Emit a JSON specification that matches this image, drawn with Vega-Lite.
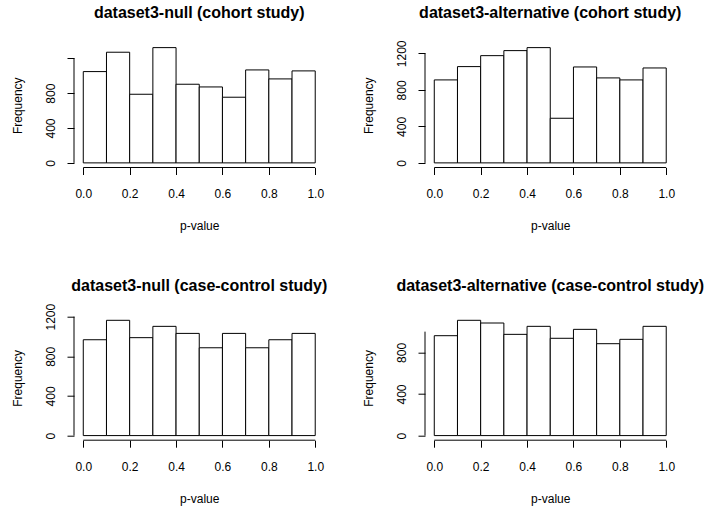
{
  "$schema": "https://vega.github.io/schema/vega-lite/v6.json",
  "background": "white",
  "padding": {"left": 10, "top": 5, "right": 5, "bottom": 5},
  "config": {
    "view": {"stroke": null},
    "font": "Liberation Sans",
    "axis": {
      "domain": false, "grid": false, "ticks": true, "tickSize": 7, "tickColor": "black", "tickWidth": 1,
      "labelFont": "Liberation Sans", "labelFontSize": 12, "labelColor": "black", "labelOverlap": false,
      "labelFlush": false, "labelBound": false,
      "titleFont": "Liberation Sans", "titleFontSize": 12, "titleFontWeight": "normal", "titleColor": "black",
      "titleBaseline": "alphabetic"
    },
    "axisX": {"labelBaseline": "alphabetic", "labelPadding": 23, "titlePadding": 30},
    "axisY": {"labelAngle": -90, "labelAlign": "center", "labelBaseline": "alphabetic", "labelPadding": 13, "titlePadding": 23, "format": "d"},
    "title": {"font": "Liberation Sans", "fontSize": 16, "fontWeight": "bold", "color": "black", "anchor": "middle", "frame": "group", "baseline": "alphabetic"}
  },
  "datasets": {
    "bins": [
      {"panel": "null-cohort", "start": 0.0, "end": 0.1, "count": 1047},
      {"panel": "null-cohort", "start": 0.1, "end": 0.2, "count": 1269},
      {"panel": "null-cohort", "start": 0.2, "end": 0.3, "count": 787},
      {"panel": "null-cohort", "start": 0.3, "end": 0.4, "count": 1322},
      {"panel": "null-cohort", "start": 0.4, "end": 0.5, "count": 902},
      {"panel": "null-cohort", "start": 0.5, "end": 0.6, "count": 871},
      {"panel": "null-cohort", "start": 0.6, "end": 0.7, "count": 753},
      {"panel": "null-cohort", "start": 0.7, "end": 0.8, "count": 1066},
      {"panel": "null-cohort", "start": 0.8, "end": 0.9, "count": 963},
      {"panel": "null-cohort", "start": 0.9, "end": 1.0, "count": 1055},
      {"panel": "alt-cohort", "start": 0.0, "end": 0.1, "count": 909},
      {"panel": "alt-cohort", "start": 0.1, "end": 0.2, "count": 1055},
      {"panel": "alt-cohort", "start": 0.2, "end": 0.3, "count": 1175},
      {"panel": "alt-cohort", "start": 0.3, "end": 0.4, "count": 1230},
      {"panel": "alt-cohort", "start": 0.4, "end": 0.5, "count": 1263},
      {"panel": "alt-cohort", "start": 0.5, "end": 0.6, "count": 489},
      {"panel": "alt-cohort", "start": 0.6, "end": 0.7, "count": 1051},
      {"panel": "alt-cohort", "start": 0.7, "end": 0.8, "count": 931},
      {"panel": "alt-cohort", "start": 0.8, "end": 0.9, "count": 909},
      {"panel": "alt-cohort", "start": 0.9, "end": 1.0, "count": 1040},
      {"panel": "null-cc", "start": 0.0, "end": 0.1, "count": 967},
      {"panel": "null-cc", "start": 0.1, "end": 0.2, "count": 1163},
      {"panel": "null-cc", "start": 0.2, "end": 0.3, "count": 988},
      {"panel": "null-cc", "start": 0.3, "end": 0.4, "count": 1102},
      {"panel": "null-cc", "start": 0.4, "end": 0.5, "count": 1031},
      {"panel": "null-cc", "start": 0.5, "end": 0.6, "count": 886},
      {"panel": "null-cc", "start": 0.6, "end": 0.7, "count": 1031},
      {"panel": "null-cc", "start": 0.7, "end": 0.8, "count": 886},
      {"panel": "null-cc", "start": 0.8, "end": 0.9, "count": 967},
      {"panel": "null-cc", "start": 0.9, "end": 1.0, "count": 1031},
      {"panel": "alt-cc", "start": 0.0, "end": 0.1, "count": 961},
      {"panel": "alt-cc", "start": 0.1, "end": 0.2, "count": 1109},
      {"panel": "alt-cc", "start": 0.2, "end": 0.3, "count": 1083},
      {"panel": "alt-cc", "start": 0.3, "end": 0.4, "count": 974},
      {"panel": "alt-cc", "start": 0.4, "end": 0.5, "count": 1051},
      {"panel": "alt-cc", "start": 0.5, "end": 0.6, "count": 936},
      {"panel": "alt-cc", "start": 0.6, "end": 0.7, "count": 1022},
      {"panel": "alt-cc", "start": 0.7, "end": 0.8, "count": 884},
      {"panel": "alt-cc", "start": 0.8, "end": 0.9, "count": 926},
      {"panel": "alt-cc", "start": 0.9, "end": 1.0, "count": 1051}
    ],
    "one": [{}]
  },
  "columns": 2,
  "bounds": "flush",
  "spacing": {"row": 147.7, "column": 100},
  "concat": [
    {
      "title": {"text": "dataset3-null (cohort study)", "offset": 22},
      "width": 250.5, "height": 124.5,
      "layer": [
        {
          "data": {"name": "bins"},
          "transform": [{"filter": "datum.panel == 'null-cohort'"}],
          "mark": {"type": "rect", "fill": "white", "stroke": "black", "strokeWidth": 1},
          "encoding": {
            "x": {"field": "start", "type": "quantitative", "scale": {"domain": [-0.04, 1.04], "nice": false, "zero": false},
                  "axis": {"title": "p-value", "values": [0, 0.2, 0.4, 0.6, 0.8, 1.0], "format": ".1f"}},
            "x2": {"field": "end"},
            "y": {"field": "count", "type": "quantitative", "scale": {"domain": [-52.88, 1374.88], "nice": false, "zero": false},
                  "axis": {"title": "Frequency", "values": [0, 200, 400, 600, 800, 1000, 1200], "labelExpr": "datum.value % 400 == 0 && datum.value <= 800 ? datum.label : ''"}},
            "y2": {"datum": 0}
          }
        },
        {
          "data": {"name": "one"},
          "mark": {"type": "rule", "color": "black", "strokeWidth": 1},
          "encoding": {"x": {"datum": 0}, "x2": {"datum": 1}, "y": {"datum": -52.88}}
        },
        {
          "data": {"name": "one"},
          "mark": {"type": "rule", "color": "black", "strokeWidth": 1},
          "encoding": {"x": {"datum": -0.04}, "y": {"datum": 0}, "y2": {"datum": 1200}}
        }
      ]
    },
    {
      "title": {"text": "dataset3-alternative (cohort study)", "offset": 19},
      "width": 250.5, "height": 124.5,
      "layer": [
        {
          "data": {"name": "bins"},
          "transform": [{"filter": "datum.panel == 'alt-cohort'"}],
          "mark": {"type": "rect", "fill": "white", "stroke": "black", "strokeWidth": 1},
          "encoding": {
            "x": {"field": "start", "type": "quantitative", "scale": {"domain": [-0.04, 1.04], "nice": false, "zero": false},
                  "axis": {"title": "p-value", "values": [0, 0.2, 0.4, 0.6, 0.8, 1.0], "format": ".1f"}},
            "x2": {"field": "end"},
            "y": {"field": "count", "type": "quantitative", "scale": {"domain": [-50.52, 1313.52], "nice": false, "zero": false},
                  "axis": {"title": "Frequency", "values": [0, 200, 400, 600, 800, 1000, 1200], "labelExpr": "datum.value % 400 == 0 ? datum.label : ''"}},
            "y2": {"datum": 0}
          }
        },
        {
          "data": {"name": "one"},
          "mark": {"type": "rule", "color": "black", "strokeWidth": 1},
          "encoding": {"x": {"datum": 0}, "x2": {"datum": 1}, "y": {"datum": -50.52}}
        },
        {
          "data": {"name": "one"},
          "mark": {"type": "rule", "color": "black", "strokeWidth": 1},
          "encoding": {"x": {"datum": -0.04}, "y": {"datum": 0}, "y2": {"datum": 1200}}
        }
      ]
    },
    {
      "title": {"text": "dataset3-null (case-control study)", "offset": 9.6},
      "width": 250.5, "height": 124.5,
      "layer": [
        {
          "data": {"name": "bins"},
          "transform": [{"filter": "datum.panel == 'null-cc'"}],
          "mark": {"type": "rect", "fill": "white", "stroke": "black", "strokeWidth": 1},
          "encoding": {
            "x": {"field": "start", "type": "quantitative", "scale": {"domain": [-0.04, 1.04], "nice": false, "zero": false},
                  "axis": {"title": "p-value", "values": [0, 0.2, 0.4, 0.6, 0.8, 1.0], "format": ".1f"}},
            "x2": {"field": "end"},
            "y": {"field": "count", "type": "quantitative", "scale": {"domain": [-46.52, 1209.52], "nice": false, "zero": false},
                  "axis": {"title": "Frequency", "values": [0, 200, 400, 600, 800, 1000, 1200], "labelExpr": "datum.value % 400 == 0 ? datum.label : ''"}},
            "y2": {"datum": 0}
          }
        },
        {
          "data": {"name": "one"},
          "mark": {"type": "rule", "color": "black", "strokeWidth": 1},
          "encoding": {"x": {"datum": 0}, "x2": {"datum": 1}, "y": {"datum": -46.52}}
        },
        {
          "data": {"name": "one"},
          "mark": {"type": "rule", "color": "black", "strokeWidth": 1},
          "encoding": {"x": {"datum": -0.04}, "y": {"datum": 0}, "y2": {"datum": 1200}}
        }
      ]
    },
    {
      "title": {"text": "dataset3-alternative (case-control study)", "offset": 22},
      "width": 250.5, "height": 124.5,
      "layer": [
        {
          "data": {"name": "bins"},
          "transform": [{"filter": "datum.panel == 'alt-cc'"}],
          "mark": {"type": "rect", "fill": "white", "stroke": "black", "strokeWidth": 1},
          "encoding": {
            "x": {"field": "start", "type": "quantitative", "scale": {"domain": [-0.04, 1.04], "nice": false, "zero": false},
                  "axis": {"title": "p-value", "values": [0, 0.2, 0.4, 0.6, 0.8, 1.0], "format": ".1f"}},
            "x2": {"field": "end"},
            "y": {"field": "count", "type": "quantitative", "scale": {"domain": [-44.36, 1153.36], "nice": false, "zero": false},
                  "axis": {"title": "Frequency", "values": [0, 200, 400, 600, 800, 1000], "labelExpr": "datum.value % 400 == 0 ? datum.label : ''"}},
            "y2": {"datum": 0}
          }
        },
        {
          "data": {"name": "one"},
          "mark": {"type": "rule", "color": "black", "strokeWidth": 1},
          "encoding": {"x": {"datum": 0}, "x2": {"datum": 1}, "y": {"datum": -44.36}}
        },
        {
          "data": {"name": "one"},
          "mark": {"type": "rule", "color": "black", "strokeWidth": 1},
          "encoding": {"x": {"datum": -0.04}, "y": {"datum": 0}, "y2": {"datum": 1000}}
        }
      ]
    }
  ]
}
